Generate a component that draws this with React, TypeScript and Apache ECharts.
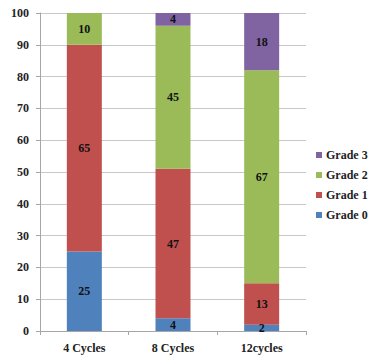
import React, { useEffect, useRef } from "react";
import * as echarts from "echarts";

const categories = ["4 Cycles", "8 Cycles", "12cycles"];
const grade0 = [25, 4, 2];
const grade1 = [65, 47, 13];
const grade2 = [10, 45, 67];
const grade3 = [0, 4, 18];
const yTicks = [0, 10, 20, 30, 40, 50, 60, 70, 80, 90, 100];

const FONT = "'Liberation Serif', 'Times New Roman', serif";

export default function App() {
  const ref = useRef<HTMLDivElement>(null);

  useEffect(() => {
    if (!ref.current) return;
    const chart = echarts.init(ref.current, undefined, { renderer: "svg" });

    const label = {
      show: true,
      position: "inside" as const,
      color: "#111",
      fontFamily: FONT,
      fontWeight: "bold" as const,
      fontSize: 12,
      formatter: (p: any) => (p.value ? String(p.value) : ""),
    };

    const mk = (name: string, data: number[], color: string) => ({
      name,
      type: "bar" as const,
      stack: "total",
      data,
      barWidth: 35,
      itemStyle: { color },
      label,
    });

    chart.setOption({
      animation: false,
      backgroundColor: "#fff",
      grid: { left: 40, right: 68, top: 13, bottom: 28 },
      legend: {
        orient: "vertical",
        left: 316,
        top: 149,
        padding: 0,
        itemWidth: 6,
        itemHeight: 6,
        itemGap: 8,
        icon: "rect",
        data: ["Grade 3", "Grade 2", "Grade 1", "Grade 0"],
        textStyle: {
          fontFamily: FONT,
          fontWeight: "bold",
          fontSize: 12,
          color: "#222",
          padding: [0, 0, 0, -1],
        },
      },
      xAxis: {
        type: "category",
        data: categories,
        axisLine: { lineStyle: { color: "#a6a6a6" } },
        axisTick: { show: true, length: 4, lineStyle: { color: "#a6a6a6" } },
        axisLabel: {
          fontFamily: FONT,
          fontWeight: "bold",
          fontSize: 12,
          color: "#222",
          margin: 11,
        },
      },
      yAxis: {
        type: "value",
        min: yTicks[0],
        max: yTicks[yTicks.length - 1],
        interval: 10,
        axisLine: { show: true, lineStyle: { color: "#a6a6a6" } },
        axisTick: { show: true, length: 4, lineStyle: { color: "#a6a6a6" } },
        splitLine: { lineStyle: { color: "#c8c8c8" } },
        axisLabel: {
          fontFamily: FONT,
          fontWeight: "bold",
          fontSize: 12,
          color: "#222",
          margin: 11,
        },
      },
      series: [
        mk("Grade 0", grade0, "#4f81bd"),
        mk("Grade 1", grade1, "#c0504d"),
        mk("Grade 2", grade2, "#9bbb59"),
        mk("Grade 3", grade3, "#8064a2"),
      ],
    });

    return () => chart.dispose();
  }, []);

  return (
    <div
      ref={ref}
      style={{ position: "fixed", left: 0, top: 0, width: 374, height: 359, background: "#fff" }}
    />
  );
}
